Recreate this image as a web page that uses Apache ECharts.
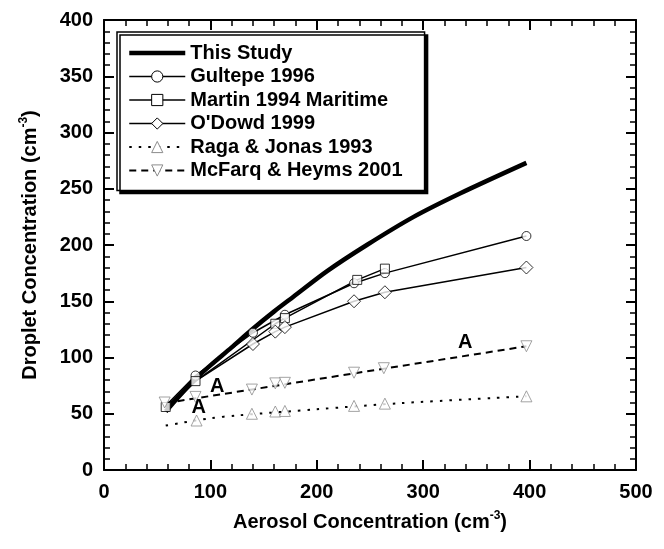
<!DOCTYPE html>
<html>
<head>
<meta charset="utf-8">
<script src="https://cdn.jsdelivr.net/npm/echarts@6/dist/echarts.min.js"></script>
<style>
  html, body { margin: 0; padding: 0; background: #fff; }
  #chart { width: 664px; height: 549px; }
</style>
</head>
<body>
<div id="chart"></div>
<script>
// values
var studyX = [58, 70, 86, 100, 120, 138, 160, 178, 210, 247, 291, 335, 397];
var studyY = [52, 65, 81, 93, 109, 124, 141, 154, 177, 200, 225, 246, 273];

var gultepeX = [58, 86, 140, 170, 235, 264, 397];
var gultepeY = [57, 84, 122, 138, 166, 175, 208];

var martinX = [58, 86, 161, 170, 238, 264];
var martinY = [56, 79, 130, 135, 169, 179];

var odowdX = [58, 86, 140, 161, 170, 235, 264, 397];
var odowdY = [53, 79, 112, 123, 127, 150, 158, 180];

var ragaLineX = [58, 70, 100, 125, 200, 280, 397];
var ragaLineY = [39.5, 41.5, 46, 48.5, 54, 59.5, 65.5];
var ragaMarkX = [87, 139, 161, 170, 235, 264, 397];
var ragaMarkY = [44, 50, 52, 52.5, 57, 59, 65.5];

var mcfarqLineX = [58, 397];
var mcfarqLineY = [59.5, 110];
var mcfarqMarkX = [57, 86, 139, 161, 170, 235, 263, 397];
var mcfarqMarkY = [60, 65, 71.5, 77, 77.5, 86.5, 90.5, 110];

var annotX = [106.5, 89, 339.5];
var annotY = [74.5, 56, 113];

var names = ['This Study', 'Gultepe 1996', 'Martin 1994 Maritime', "O'Dowd 1999", 'Raga & Jonas 1993', 'McFarq & Heyms 2001'];

function pts(xs, ys) {
  return xs.map(function (x, i) { return [x, ys[i]]; });
}

var FONT = 'Liberation Sans, Arial, sans-serif';
var GRAY = '#8c8c8c';

var chart = echarts.init(document.getElementById('chart'));

function axisCommon(extra) {
  var a = {
    type: 'value',
    axisLine: { show: true, onZero: false, lineStyle: { color: '#000', width: 2 } },
    axisTick: { show: true, inside: true, length: 10, lineStyle: { color: '#000', width: 2 } },
    minorTick: { show: true, splitNumber: 5, length: 6, lineStyle: { color: '#000', width: 1.5 } },
    splitLine: { show: false },
    axisLabel: { show: true, color: '#000', fontSize: 20, fontWeight: 'bold', fontFamily: FONT }
  };
  for (var k in extra) a[k] = extra[k];
  return a;
}

var titleStyle = {
  color: '#000', fontSize: 20, fontWeight: 'bold', fontFamily: FONT, lineHeight: 24,
  rich: {
    sup: { fontSize: 12, fontWeight: 'bold', fontFamily: FONT, color: '#000', lineHeight: 12, verticalAlign: 'top' }
  }
};

function lineSeries(name, data, opts) {
  return {
    name: name,
    type: 'line',
    data: data,
    showSymbol: false,
    symbol: opts.symbol || 'none',
    symbolRotate: opts.rotate || 0,
    smooth: opts.smooth || false,
    lineStyle: { color: '#000', width: opts.width || 1.5, type: opts.type || 'solid' },
    itemStyle: { color: '#fff', borderColor: opts.markColor || '#000', borderWidth: 1 },
    z: 2
  };
}

function markSeries(id, data, symbol, size, color, rotate) {
  return {
    name: id,
    type: 'scatter',
    data: data,
    symbol: symbol,
    symbolSize: size,
    symbolRotate: rotate || 0,
    itemStyle: { color: '#fff', borderColor: color, borderWidth: 1 },
    z: 3
  };
}

var option = {
  animation: false,
  backgroundColor: '#fff',
  grid: { left: 104, right: 28, top: 20, bottom: 79, containLabel: false },
  xAxis: [
    axisCommon({
      min: 0, max: 500, interval: 100, position: 'bottom',
      axisLabel: { show: true, color: '#000', fontSize: 20, fontWeight: 'bold', fontFamily: FONT, margin: 12 },
      name: 'Aerosol Concentration (cm{sup|-3})',
      nameLocation: 'middle', nameGap: 40, nameTextStyle: titleStyle
    }),
    axisCommon({ min: 0, max: 500, interval: 100, position: 'top', axisLabel: { show: false } })
  ],
  yAxis: [
    axisCommon({
      min: 0, max: 400, interval: 50, position: 'left',
      axisLabel: { show: true, color: '#000', fontSize: 20, fontWeight: 'bold', fontFamily: FONT, margin: 11 },
      name: 'Droplet Concentration (cm{sup|-3})',
      nameLocation: 'middle', nameGap: 62, nameTextStyle: titleStyle
    }),
    axisCommon({ min: 0, max: 400, interval: 50, position: 'right', axisLabel: { show: false } })
  ],
  legend: {
    orient: 'vertical',
    left: 117, top: 32,
    itemWidth: 56, itemHeight: 14, itemGap: 3.5,
    itemTextGap: 1,
    padding: [11, 22, 10, 10],
    backgroundColor: '#fff',
    borderColor: '#000', borderWidth: 1.5, borderRadius: 0,
    shadowColor: '#000', shadowBlur: 0, shadowOffsetX: 3, shadowOffsetY: 3,
    itemStyle: { borderWidth: 1 },
    textStyle: { color: '#000', fontSize: 20, fontWeight: 'bold', fontFamily: FONT },
    data: [
      { name: names[0], lineStyle: { width: 4.5 }, itemStyle: { opacity: 0 } },
      { name: names[1], lineStyle: { width: 1.5 } },
      { name: names[2], lineStyle: { width: 1.5 } },
      { name: names[3], lineStyle: { width: 1.5 } },
      { name: names[4], lineStyle: { width: 2 } },
      { name: names[5], lineStyle: { width: 2 } }
    ]
  },
  series: [
    lineSeries(names[0], pts(studyX, studyY), { width: 4.5, smooth: 0.3 }),
    lineSeries(names[1], pts(gultepeX, gultepeY), { symbol: 'circle' }),
    lineSeries(names[2], pts(martinX, martinY), { symbol: 'rect' }),
    lineSeries(names[3], pts(odowdX, odowdY), { symbol: 'diamond' }),
    lineSeries(names[4], pts(ragaLineX, ragaLineY), { symbol: 'triangle', type: [2.5, 7], width: 2, markColor: GRAY, smooth: 0.3 }),
    lineSeries(names[5], pts(mcfarqLineX, mcfarqLineY), { symbol: 'triangle', rotate: 180, type: [7, 5], width: 2, markColor: GRAY }),
    markSeries('gultepeMarks', pts(gultepeX.slice(1), gultepeY.slice(1)), 'circle', 9, '#000'),
    markSeries('martinMarks', pts(martinX, martinY), 'rect', 9, '#000'),
    markSeries('odowdMarks', pts(odowdX.slice(2), odowdY.slice(2)), 'diamond', 13, '#000'),
    markSeries('ragaMarks', pts(ragaMarkX, ragaMarkY), 'triangle', 11, GRAY),
    markSeries('mcfarqMarks', pts(mcfarqMarkX, mcfarqMarkY), 'triangle', 11, GRAY, 180),
    {
      name: 'annotations',
      type: 'scatter',
      data: pts(annotX, annotY),
      symbol: 'circle',
      symbolSize: 0,
      itemStyle: { color: '#000' },
      label: {
        show: true, position: 'inside', formatter: 'A', opacity: 1,
        color: '#000', fontSize: 20, fontWeight: 'bold', fontFamily: FONT
      },
      z: 4
    }
  ]
};

chart.setOption(option);
</script>
</body>
</html>
